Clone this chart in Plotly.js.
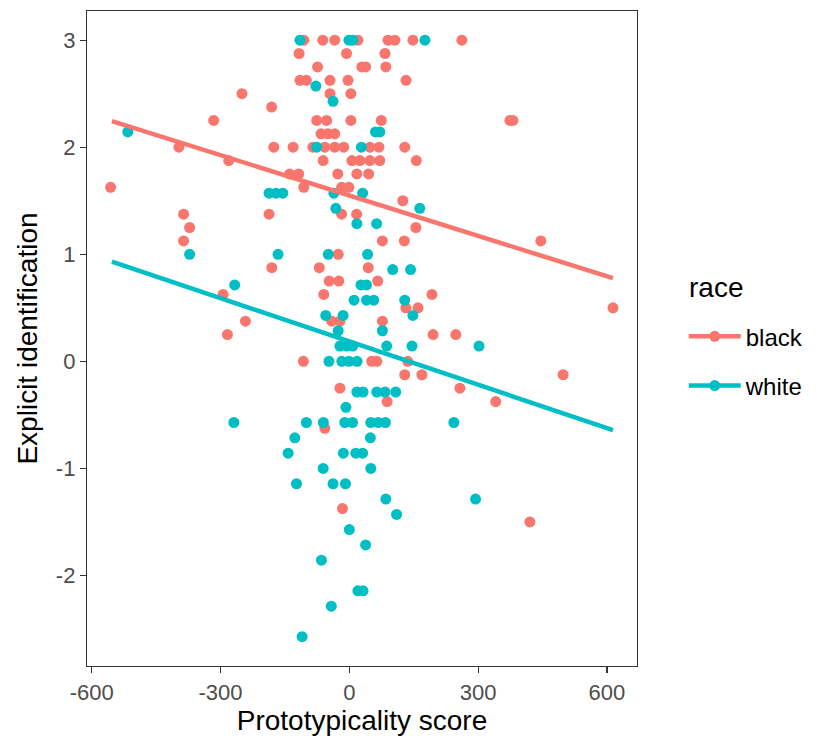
<!DOCTYPE html>
<html>
<head>
<meta charset="utf-8">
<script src="https://cdn.plot.ly/plotly-3.0.1.min.js"></script>
<style>html,body{margin:0;padding:0;background:#fff;}#chart{width:820px;height:744px;}</style>
</head>
<body>
<div id="chart"></div>
<script>
// ---- data ----
const groups = ["black", "white"];
const groupColors = ["#F8766D", "#00BFC4"];

const blackX = [
  -106, -62, -34, 20, 90, 106, 148, 262,
  -117, -6.5, 83,
  -74, 29, 38, 85,
  -115, -100, -45, -3, 132,
  -250, -45, 3.5,
  -181,
  -316, -76, -53, 3.5, 74.5, 374, 381,
  -66, -50, -34,
  -397, -176, -131, -85, -57, -34, -13, 48, 69, 129,
  -281, -61, 6, 24.5, 48, 71, 156,
  -139, -118, -27, 17.5, 45,
  -556, -106, -18, -1,
  124.5,
  -386, -187, -18, 17,
  -372, 155,
  -386, 77, 128, 446,
  -26,
  -180.5, -70, 44,
  -47, -24.5, 66,
  -294, -59.5, 192.5,
  131.6, 160, 614,
  -242, -41, -22, 77,
  -284, 195, 248,
  -107, 52, 64, 136,
  129, 169, 498,
  -22, 257.5,
  88, 341,
  -57,
  -16,
  420.5
];
const blackY = [
  3, 3, 3, 3, 3, 3, 3, 3,
  2.875, 2.875, 2.875,
  2.75, 2.75, 2.75, 2.75,
  2.625, 2.625, 2.625, 2.625, 2.625,
  2.5, 2.5, 2.5,
  2.375,
  2.25, 2.25, 2.25, 2.25, 2.25, 2.25, 2.25,
  2.125, 2.125, 2.125,
  2, 2, 2, 2, 2, 2, 2, 2, 2, 2,
  1.875, 1.875, 1.875, 1.875, 1.875, 1.875, 1.875,
  1.75, 1.75, 1.75, 1.75, 1.75,
  1.625, 1.625, 1.625, 1.625,
  1.5,
  1.375, 1.375, 1.375, 1.375,
  1.25, 1.25,
  1.125, 1.125, 1.125, 1.125,
  1,
  0.875, 0.875, 0.875,
  0.75, 0.75, 0.75,
  0.625, 0.625, 0.625,
  0.5, 0.5, 0.5,
  0.375, 0.375, 0.375, 0.375,
  0.25, 0.25, 0.25,
  0, 0, 0, 0,
  -0.125, -0.125, -0.125,
  -0.25, -0.25,
  -0.375, -0.375,
  -0.625,
  -1.375,
  -1.5
];

const whiteX = [
  -115, -1, 8, 176,
  -78,
  -38,
  -516, 61, 71,
  -76, 28,
  -187, -171, -155, -36, 31,
  -31.5, 164,
  17.5, 63.5,
  -372, -166, -49, 42.5,
  101, 142.6,
  -267, 27, 40,
  11, 40, 57, 129,
  -55, -14.5, 148,
  -26, 77,
  -22, -6, 8, 87, 146, 302,
  -47.5, -17.5, -1, 18,
  17.5, 32, 64, 83, 108,
  -8,
  -269, -100, -60.5, -10.5, 7.5, 50, 67, 84, 243.5,
  -127, 49,
  -142.6, -14, 15, 31,
  -61, 50,
  -123, -38, -9,
  85, 294,
  110,
  0,
  38,
  -65,
  20, 32,
  -42,
  -110
];
const whiteY = [
  3, 3, 3, 3,
  2.571,
  2.429,
  2.143, 2.143, 2.143,
  2, 2,
  1.571, 1.571, 1.571, 1.571, 1.571,
  1.429, 1.429,
  1.286, 1.286,
  1, 1, 1, 1,
  0.857, 0.857,
  0.714, 0.714, 0.714,
  0.571, 0.571, 0.571, 0.571,
  0.429, 0.429, 0.429,
  0.286, 0.286,
  0.143, 0.143, 0.143, 0.143, 0.143, 0.143,
  0, 0, 0, 0,
  -0.286, -0.286, -0.286, -0.286, -0.286,
  -0.429,
  -0.571, -0.571, -0.571, -0.571, -0.571, -0.571, -0.571, -0.571, -0.571,
  -0.714, -0.714,
  -0.857, -0.857, -0.857, -0.857,
  -1, -1,
  -1.143, -1.143, -1.143,
  -1.286, -1.286,
  -1.429,
  -1.571,
  -1.714,
  -1.857,
  -2.143, -2.143,
  -2.286,
  -2.571
];

// fitted regression lines (intercept, slope) and the x span they cover
const fitIntercepts = [1.549, 0.186];
const fitSlopes = [-0.001257, -0.001348];
const fitRange = [-553, 614];

const xTicks = [-600, -300, 0, 300, 600];
const yTicks = [-2, -1, 0, 1, 2, 3];

// ---- build traces ----
const ptsX = [blackX, whiteX];
const ptsY = [blackY, whiteY];
const traces = [];
groups.forEach((g, i) => {
  traces.push({
    type: "scatter", mode: "markers", x: ptsX[i], y: ptsY[i],
    marker: {color: groupColors[i], size: 11, line: {width: 0}},
    showlegend: false, hoverinfo: "x+y", name: g
  });
});
groups.forEach((g, i) => {
  traces.push({
    type: "scatter", mode: "lines",
    x: fitRange.slice(),
    y: fitRange.map(v => fitIntercepts[i] + fitSlopes[i] * v),
    line: {color: groupColors[i], width: 4.5},
    showlegend: false, hoverinfo: "skip", name: g
  });
});
groups.forEach((g, i) => {
  traces.push({
    type: "scatter", mode: "lines+markers", x: [null], y: [null],
    line: {color: groupColors[i], width: 4.5},
    marker: {color: groupColors[i], size: 11},
    name: g, legendgroup: g, showlegend: true
  });
});

const font = "Liberation Sans, Arial, Helvetica, sans-serif";
const layout = {
  width: 820, height: 744, autosize: false,
  margin: {l: 87, r: 183, t: 11, b: 78},
  paper_bgcolor: "#ffffff", plot_bgcolor: "#ffffff",
  font: {family: font, color: "#000"},
  xaxis: {
    range: [-611, 670], showgrid: false, zeroline: false,
    showline: true, mirror: true, linecolor: "#333333", linewidth: 1.2,
    ticks: "outside", ticklen: 6, tickwidth: 1.2, tickcolor: "#333333",
    tickvals: xTicks, ticktext: xTicks.map(String),
    tickfont: {family: font, size: 22, color: "#4D4D4D"},
    title: {text: "Prototypicality score", font: {family: font, size: 28, color: "#000"}, standoff: 6},
    automargin: false
  },
  yaxis: {
    range: [-2.845, 3.272], showgrid: false, zeroline: false,
    showline: true, mirror: true, linecolor: "#333333", linewidth: 1.2,
    ticks: "outside", ticklen: 6, tickwidth: 1.2, tickcolor: "#333333",
    tickvals: yTicks, ticktext: yTicks.map(String),
    tickfont: {family: font, size: 22, color: "#4D4D4D"},
    title: {text: "Explicit identification", font: {family: font, size: 28, color: "#000"}, standoff: 10},
    automargin: false
  },
  showlegend: true,
  legend: {
    x: 1.085, xanchor: "left", y: 0.537, yanchor: "top",
    font: {family: font, size: 24, color: "#000"},
    tracegroupgap: 15, itemwidth: 52, bgcolor: "rgba(0,0,0,0)"
  },
  annotations: [{
    text: "race", xref: "paper", yref: "paper", x: 1.09, y: 0.578,
    xanchor: "left", yanchor: "middle", showarrow: false,
    font: {family: font, size: 28, color: "#000"}
  }]
};

Plotly.newPlot("chart", traces, layout, {displayModeBar: false, staticPlot: true});
</script>
</body>
</html>
